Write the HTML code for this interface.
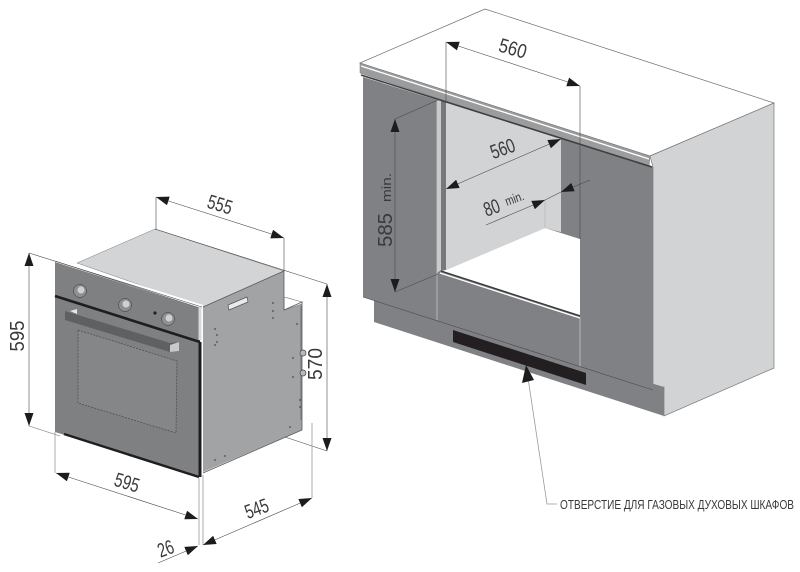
<!DOCTYPE html>
<html><head><meta charset="utf-8"><style>
html,body{margin:0;padding:0;background:#fff;width:800px;height:572px;overflow:hidden}
svg{display:block}
text{font-family:"Liberation Sans",sans-serif;fill:#3a3a3c}
.d{font-size:20px}
.l{stroke:#4a4a4c;stroke-width:.6;fill:none}
.g{stroke:#9a9a9c;stroke-width:.8;fill:none}
</style></head><body>
<svg width="800" height="572" viewBox="0 0 800 572" xmlns="http://www.w3.org/2000/svg">
<defs>
<marker id="a" markerUnits="userSpaceOnUse" markerWidth="14" markerHeight="10" refX="13" refY="4.5" orient="auto-start-reverse"><path d="M0 0L13 4.5L0 9Z" fill="#1c1c1e"/></marker>
</defs>

<!-- CABINET -->
<polygon points="360,63 485,9 774,103 650,156" fill="#fff" stroke="#6d6e70" stroke-width=".7"/>
<polygon points="650,156 774,103 774,368 664,416 664,387 653,390 653,167" fill="#d2d3d5" stroke="#77787a" stroke-width=".7"/>
<polygon points="374,300 664,387 664,416 374,322" fill="#808184"/>
<polygon points="363,77 653,167 653,390 363,297" fill="#808184"/>
<polygon points="437,100 446,102 446,270 441,270 437,273" fill="#c9cacc"/>
<polygon points="441,100 446,102 446,270 441,272" fill="#77787a"/>
<polygon points="446,102 561,138 561,232 545,228 446,270" fill="#d2d3d5"/>
<polygon points="561,138 580,146 580,239 561,232" fill="#808184"/>
<polygon points="545,228 561,232 561,138 545,133" fill="#d2d3d5"/>
<polygon points="446,270 545,228 580,239 580,315 441,271" fill="#fff"/>
<line x1="545" y1="200" x2="545" y2="228" stroke="#aaa" stroke-width=".5"/>
<line x1="441" y1="271" x2="580" y2="316" stroke="#38383a" stroke-width="1.4"/>
<line x1="440" y1="273" x2="580" y2="318" stroke="#fff" stroke-width="1.4"/>
<line x1="437" y1="100" x2="437" y2="320" stroke="#ccc" stroke-width=".7"/>
<line x1="580" y1="318" x2="580" y2="367" stroke="#ccc" stroke-width=".7"/>
<line x1="363" y1="297" x2="653" y2="390" stroke="#4d4d4f" stroke-width=".6"/>
<polygon points="453,330 586,373 586,385 453,342" fill="#231f20"/>
<polygon points="360,63 650,156 649,167 360,73" fill="#9b9c9e" stroke="#77787a" stroke-width=".5"/>
<line x1="361" y1="66" x2="649" y2="159" stroke="#fff" stroke-width="1.3"/>
<line x1="361" y1="75" x2="652" y2="167" stroke="#3f3f41" stroke-width="1.6"/>

<!-- cabinet dims -->
<path class="l" d="M446 42V102M580 86V239M395 119L438 100M395 292L438 274"/>
<line class="l" x1="446" y1="42" x2="580" y2="86" marker-start="url(#a)" marker-end="url(#a)"/>
<line class="l" x1="446" y1="189" x2="561" y2="139" marker-start="url(#a)" marker-end="url(#a)"/>
<line class="l" x1="395" y1="119" x2="395" y2="292" marker-start="url(#a)" marker-end="url(#a)"/>
<line class="l" x1="486" y1="225" x2="545" y2="200" marker-end="url(#a)"/>
<line class="l" x1="561" y1="192" x2="590" y2="180" marker-start="url(#a)"/>
<line class="l" x1="545" y1="200" x2="561" y2="192"/>
<text class="d" transform="translate(511,55) rotate(16)" text-anchor="middle" textLength="28" lengthAdjust="spacingAndGlyphs">560</text>
<text class="d" transform="translate(505,155) rotate(-20)" text-anchor="middle" textLength="25" lengthAdjust="spacingAndGlyphs">560</text>
<text class="d" transform="translate(494,214) rotate(-20)" text-anchor="middle" textLength="16" lengthAdjust="spacingAndGlyphs">80</text>
<text transform="translate(507,206) rotate(-20)" font-size="13" textLength="19" lengthAdjust="spacingAndGlyphs">min.</text>
<text class="d" transform="translate(392,247) rotate(-90)" textLength="34" lengthAdjust="spacingAndGlyphs">585</text>
<text transform="translate(391,202) rotate(-90)" font-size="13" textLength="29" lengthAdjust="spacingAndGlyphs">min.</text>
<path class="g" d="M528 378L547 504H557"/>
<polygon points="526,365 534,380 522,383" fill="#1c1c1e"/>
<text x="560" y="509" font-size="12.5" textLength="234" lengthAdjust="spacingAndGlyphs" fill="#222">ОТВЕРСТИЕ ДЛЯ ГАЗОВЫХ ДУХОВЫХ ШКАФОВ</text>

<!-- OVEN -->
<polygon points="77,263 155,229 284,271 203,307" fill="#d3d4d6" stroke="#7a7b7d" stroke-width=".5"/>
<polygon points="203,307 284,271 284,310 296,304 286,297 302,302 302,430 203,472" fill="#a1a3a5"/>
<polygon points="284,297 302,302 302,304 284,310" fill="#fff" stroke="#77787a" stroke-width=".6"/>
<path d="M203 307L284 271V310L302 302V430L203 473" fill="none" stroke="#5a5b5d" stroke-width=".8"/>
<polygon points="228,305 247,297 248,302 229,310" fill="#e9eaeb" stroke="#555" stroke-width=".7" stroke-linejoin="round"/>
<line x1="301" y1="306" x2="301" y2="420" stroke="#77787a" stroke-width="1.2"/>
<circle cx="303" cy="353" r="3" fill="#b8b9bb" stroke="#444" stroke-width=".7"/>
<circle cx="303" cy="373" r="3" fill="#b8b9bb" stroke="#444" stroke-width=".7"/>
<g fill="#4a4a4c">
<circle cx="273" cy="303" r=".9"/><circle cx="273" cy="311" r=".9"/><circle cx="273" cy="318" r=".9"/>
<circle cx="215" cy="329" r=".9"/><circle cx="217" cy="335" r=".9"/><circle cx="217" cy="342" r=".9"/><circle cx="215" cy="345" r=".9"/>
<circle cx="297" cy="324" r=".9"/><circle cx="293" cy="358" r=".9"/><circle cx="293" cy="377" r=".9"/><circle cx="300" cy="400" r=".9"/><circle cx="300" cy="407" r=".9"/><circle cx="290" cy="427" r=".9"/><circle cx="215" cy="460" r=".9"/><circle cx="225" cy="456" r=".9"/>
</g>
<polygon points="55,260 200,307 200,477 55,432" fill="#7f8082"/>
<polygon points="55,258 203,305 203,309 55,262" fill="#fff"/>
<line x1="55" y1="261" x2="200" y2="308" stroke="#5a5b5d" stroke-width=".6"/>
<line x1="200" y1="307" x2="200" y2="340" stroke="#d8d9da" stroke-width="3"/>
<line x1="55" y1="296" x2="200" y2="342" stroke="#1e1e20" stroke-width="2.6"/>
<line x1="200" y1="342" x2="200" y2="477" stroke="#1e1e20" stroke-width="3"/>
<line x1="64" y1="434" x2="199" y2="477" stroke="#1e1e20" stroke-width="2.4"/>
<polygon points="65,311 170,343 179,342 179,351 170,352 65,320" fill="#5f6062"/>
<polygon points="170,345 179,342 179,351 170,352" fill="#c8c9cb"/>
<polygon points="70,311 77,309 77,314" fill="#e6e7e8"/>
<polygon points="78,330 177,361 176,433 78,403" fill="#858688" stroke="#4a4a4c" stroke-width=".7" stroke-dasharray="2 1.2"/>
<g stroke="#333" stroke-width=".5">
<circle cx="80" cy="291" r="6.5" fill="#8e8f91"/><circle cx="125" cy="305" r="6.5" fill="#8e8f91"/><circle cx="168" cy="319" r="6.5" fill="#8e8f91"/>
</g>
<circle cx="81" cy="290" r="3.5" fill="#cfd0d2"/><circle cx="126" cy="304" r="3.5" fill="#cfd0d2"/><circle cx="169" cy="318" r="3.5" fill="#cfd0d2"/>
<circle cx="155" cy="313" r="1.6" fill="#222"/>

<!-- oven dims -->
<path class="l" d="M156 197V229M284 238V271M155 229L327 284M285 437L327 451M29 253L202 307"/>
<path class="g" d="M29 426L60 436M55 432V473M199 478V545M203 475V545M312 423V498"/>
<line class="l" x1="156" y1="197" x2="284" y2="238" marker-start="url(#a)" marker-end="url(#a)"/>
<line class="l" x1="327" y1="284" x2="327" y2="451" marker-start="url(#a)" marker-end="url(#a)"/>
<line class="l" x1="29" y1="253" x2="29" y2="426" marker-start="url(#a)" marker-end="url(#a)"/>
<line class="l" x1="56" y1="473" x2="198" y2="519" marker-start="url(#a)" marker-end="url(#a)"/>
<line class="l" x1="203" y1="545" x2="312" y2="498" marker-start="url(#a)" marker-end="url(#a)"/>
<line class="l" x1="158" y1="563" x2="198" y2="546" marker-end="url(#a)"/>
<text class="d" transform="translate(218,211) rotate(17)" text-anchor="middle" textLength="25" lengthAdjust="spacingAndGlyphs">555</text>
<text class="d" transform="translate(24,336) rotate(-90)" text-anchor="middle" textLength="31" lengthAdjust="spacingAndGlyphs">595</text>
<text class="d" transform="translate(322,364) rotate(-90)" text-anchor="middle" textLength="32" lengthAdjust="spacingAndGlyphs">570</text>
<text class="d" transform="translate(125,489) rotate(17)" text-anchor="middle" textLength="25" lengthAdjust="spacingAndGlyphs">595</text>
<text class="d" transform="translate(259,515) rotate(-20)" text-anchor="middle" textLength="24" lengthAdjust="spacingAndGlyphs">545</text>
<text class="d" transform="translate(168,555) rotate(-20)" text-anchor="middle" textLength="16" lengthAdjust="spacingAndGlyphs">26</text>
</svg>
</body></html>
